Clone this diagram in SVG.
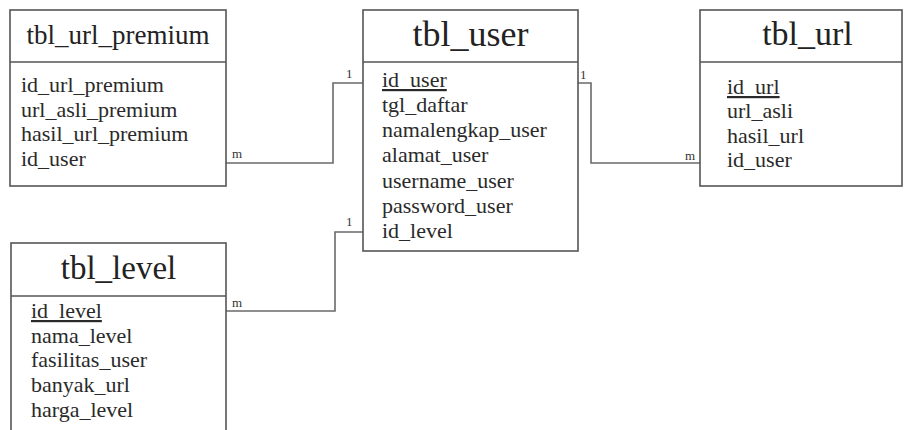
<svg xmlns="http://www.w3.org/2000/svg" width="904" height="430" viewBox="0 0 904 430">
  <style>
    .box { fill: #ffffff; stroke: #555555; stroke-width: 1.6; }
    .sep { stroke: #555555; stroke-width: 1.6; }
    .title { font-family: "Liberation Serif", "Times New Roman", serif; fill: #222222; text-anchor: middle; }
    .field { font-family: "Liberation Serif", "Times New Roman", serif; font-size: 22px; fill: #2a2a2a; }
    .key { text-decoration: underline; }
    .conn { fill: none; stroke: #6a6a6a; stroke-width: 1.6; }
    .card { font-family: "Liberation Serif", "Times New Roman", serif; font-size: 13px; fill: #333333; }
  </style>
  <rect width="904" height="430" fill="#ffffff"/>

  <!-- relationships -->
  <g id="connectors">
    <polyline class="conn" points="226,163 333,163 333,83 363,83"/>
    <polyline class="conn" points="578,83 591,83 591,163 700,163"/>
    <polyline class="conn" points="226,311 335,311 335,232 363,232"/>
    <text class="card" x="232" y="158">m</text>
    <text class="card" x="346" y="78">1</text>
    <text class="card" x="580" y="79">1</text>
    <text class="card" x="685" y="160">m</text>
    <text class="card" x="232" y="307">m</text>
    <text class="card" x="346" y="226">1</text>
  </g>

  <g id="tbl_url_premium">
    <rect class="box" x="10" y="10" width="216" height="176"/>
    <line class="sep" x1="10" y1="62" x2="226" y2="62"/>
    <text class="title" x="118" y="44" font-size="27">tbl_url_premium</text>
    <text class="field" x="21" y="92">id_url_premium</text>
    <text class="field" x="21" y="117">url_asli_premium</text>
    <text class="field" x="21" y="141">hasil_url_premium</text>
    <text class="field" x="21" y="166">id_user</text>
  </g>

  <g id="tbl_user">
    <rect class="box" x="363" y="10" width="215" height="241"/>
    <line class="sep" x1="363" y1="62" x2="578" y2="62"/>
    <text class="title" x="470.5" y="46" font-size="36">tbl_user</text>
    <text class="field key" x="382" y="87">id_user</text>
    <text class="field" x="382" y="112">tgl_daftar</text>
    <text class="field" x="382" y="137">namalengkap_user</text>
    <text class="field" x="382" y="162">alamat_user</text>
    <text class="field" x="382" y="188">username_user</text>
    <text class="field" x="382" y="213">password_user</text>
    <text class="field" x="382" y="238">id_level</text>
  </g>

  <g id="tbl_url">
    <rect class="box" x="700" y="10" width="202" height="176"/>
    <line class="sep" x1="700" y1="62" x2="902" y2="62"/>
    <text class="title" x="807.5" y="45" font-size="34">tbl_url</text>
    <text class="field key" x="727" y="94">id_url</text>
    <text class="field" x="727" y="118">url_asli</text>
    <text class="field" x="727" y="143">hasil_url</text>
    <text class="field" x="727" y="167">id_user</text>
  </g>

  <g id="tbl_level">
    <rect class="box" x="11" y="243" width="215" height="200"/>
    <line class="sep" x1="11" y1="296" x2="226" y2="296"/>
    <text class="title" x="118.5" y="279" font-size="33">tbl_level</text>
    <text class="field key" x="31" y="318">id_level</text>
    <text class="field" x="31" y="343">nama_level</text>
    <text class="field" x="31" y="367">fasilitas_user</text>
    <text class="field" x="31" y="392">banyak_url</text>
    <text class="field" x="31" y="417">harga_level</text>
  </g>
</svg>
